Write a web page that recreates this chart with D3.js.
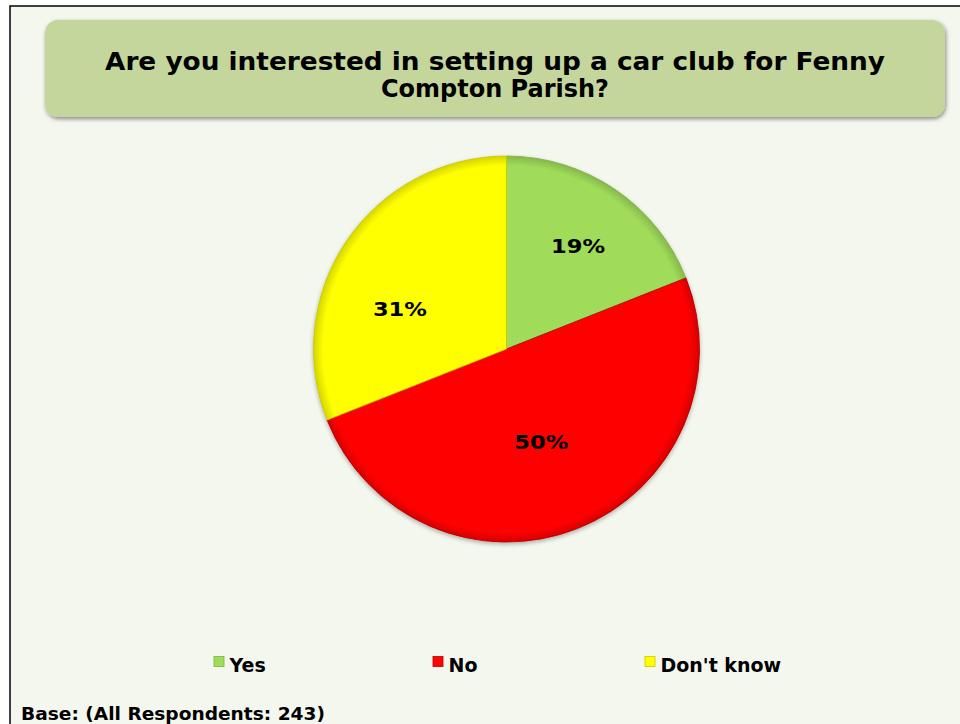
<!DOCTYPE html>
<html><head><meta charset="utf-8">
<script src="https://cdn.jsdelivr.net/npm/d3@7"></script>
<style>html,body{margin:0;padding:0;background:#fff;}svg{display:block;}</style>
</head><body>
<script>
const categories = ["Yes", "No", "Don't know"];
const values = [19, 50, 31];
const colors = ["#a0dc5a", "#ff0606", "#ffff00"];
const edgeColors = ["#7fae45", "#b00000", "#c8c800"];
const titleLines = ["Are you interested in setting up a car club for Fenny", "Compton Parish?"];
const footer = "Base: (All Respondents: 243)";

const W = 960, H = 724;
const FONT = "Verdana, 'DejaVu Sans', sans-serif";
const svg = d3.select("body").append("svg").attr("width", W).attr("height", H);
const defs = svg.append("defs");

// background & frame
svg.append("rect").attr("width", W).attr("height", H).attr("fill", "#ffffff");
svg.append("rect").attr("x", 10).attr("y", 6).attr("width", W).attr("height", H)
  .attr("fill", "#f4f7ee").attr("stroke", "#000").attr("stroke-width", 1.5);

// title box shadow
const f = defs.append("filter").attr("id", "sh").attr("x", "-5%").attr("y", "-20%").attr("width", "110%").attr("height", "150%");
f.append("feGaussianBlur").attr("in", "SourceAlpha").attr("stdDeviation", 2);
f.append("feOffset").attr("dx", 1).attr("dy", 2).attr("result", "o");
f.append("feComponentTransfer").append("feFuncA").attr("type", "linear").attr("slope", 0.45);
const m = f.append("feMerge"); m.append("feMergeNode"); m.append("feMergeNode").attr("in", "SourceGraphic");

svg.append("rect").attr("x", 45).attr("y", 20).attr("width", 900).attr("height", 97)
  .attr("rx", 13).attr("fill", "#c4d69b").attr("filter", "url(#sh)");

const titleWidths = [780, 228];
titleLines.forEach((t, i) => {
  svg.append("text").attr("x", 495).attr("y", 70 + i * 27).attr("text-anchor", "middle")
    .attr("font-family", FONT).attr("font-weight", "bold").attr("font-size", 25)
    .attr("textLength", titleWidths[i]).attr("lengthAdjust", "spacingAndGlyphs")
    .attr("fill", "#000").text(t);
});

// pie
const cx = 506.5, cy = 349, r = 193;
const pie = d3.pie().sort(null).value(d => d)(values);
const arc = d3.arc().innerRadius(0).outerRadius(r);
const g = svg.append("g").attr("transform", `translate(${cx},${cy})`);

colors.forEach((c, i) => {
  const gr = defs.append("radialGradient").attr("id", "g" + i)
    .attr("gradientUnits", "userSpaceOnUse").attr("cx", 0).attr("cy", 0).attr("r", r);
  gr.append("stop").attr("offset", "0.95").attr("stop-color", c);
  gr.append("stop").attr("offset", "1").attr("stop-color", d3.color(c).darker(0.5));
});

const ps = defs.append("filter").attr("id", "psh").attr("x", "-10%").attr("y", "-10%").attr("width", "120%").attr("height", "120%");
ps.append("feGaussianBlur").attr("in", "SourceAlpha").attr("stdDeviation", 2);
ps.append("feOffset").attr("dx", 0).attr("dy", 2).attr("result", "o");
ps.append("feComponentTransfer").append("feFuncA").attr("type", "linear").attr("slope", 0.3);
const m2 = ps.append("feMerge"); m2.append("feMergeNode"); m2.append("feMergeNode").attr("in", "SourceGraphic");

const slices = g.append("g").attr("filter", "url(#psh)");
slices.selectAll("path").data(pie).join("path")
  .attr("d", arc)
  .attr("fill", (d, i) => `url(#g${i})`)
  .attr("stroke", (d, i) => edgeColors[i]).attr("stroke-width", 0.8);

// data labels (best-fit placement: radius fraction and angular shift per slice)
const labelRadius = [0.65, 0.515, 0.59];
const labelShift = [0.01, 0.02, -0.237];
const labelWidths = [54, 54, 54];
g.selectAll("text.lab").data(pie).join("text").attr("class", "lab")
  .attr("transform", (d, i) => {
    const a = (d.startAngle + d.endAngle) / 2 + labelShift[i];
    const rr = r * labelRadius[i];
    return `translate(${rr * Math.sin(a)},${-rr * Math.cos(a)})`;
  })
  .attr("text-anchor", "middle").attr("dy", "0.36em")
  .attr("font-family", FONT).attr("font-weight", "bold").attr("font-size", 20)
  .attr("textLength", (d, i) => labelWidths[i]).attr("lengthAdjust", "spacingAndGlyphs")
  .attr("fill", "#000").text(d => d.data + "%");

// legend
const legX = [214, 433, 645];
categories.forEach((c, i) => {
  svg.append("rect").attr("x", legX[i]).attr("y", 656.5).attr("width", 10).attr("height", 10)
    .attr("fill", colors[i]).attr("stroke", edgeColors[i]).attr("stroke-width", 0.8);
  svg.append("text").attr("x", legX[i] + 15.5).attr("y", 672.3)
    .attr("font-family", FONT).attr("font-weight", "bold").attr("font-size", 19)
    .attr("fill", "#000").text(c);
});

svg.append("text").attr("x", 21).attr("y", 719.5)
  .attr("font-family", FONT).attr("font-weight", "bold").attr("font-size", 17)
  .attr("textLength", 304).attr("lengthAdjust", "spacingAndGlyphs")
  .attr("fill", "#000").text(footer);
</script>
</body></html>
